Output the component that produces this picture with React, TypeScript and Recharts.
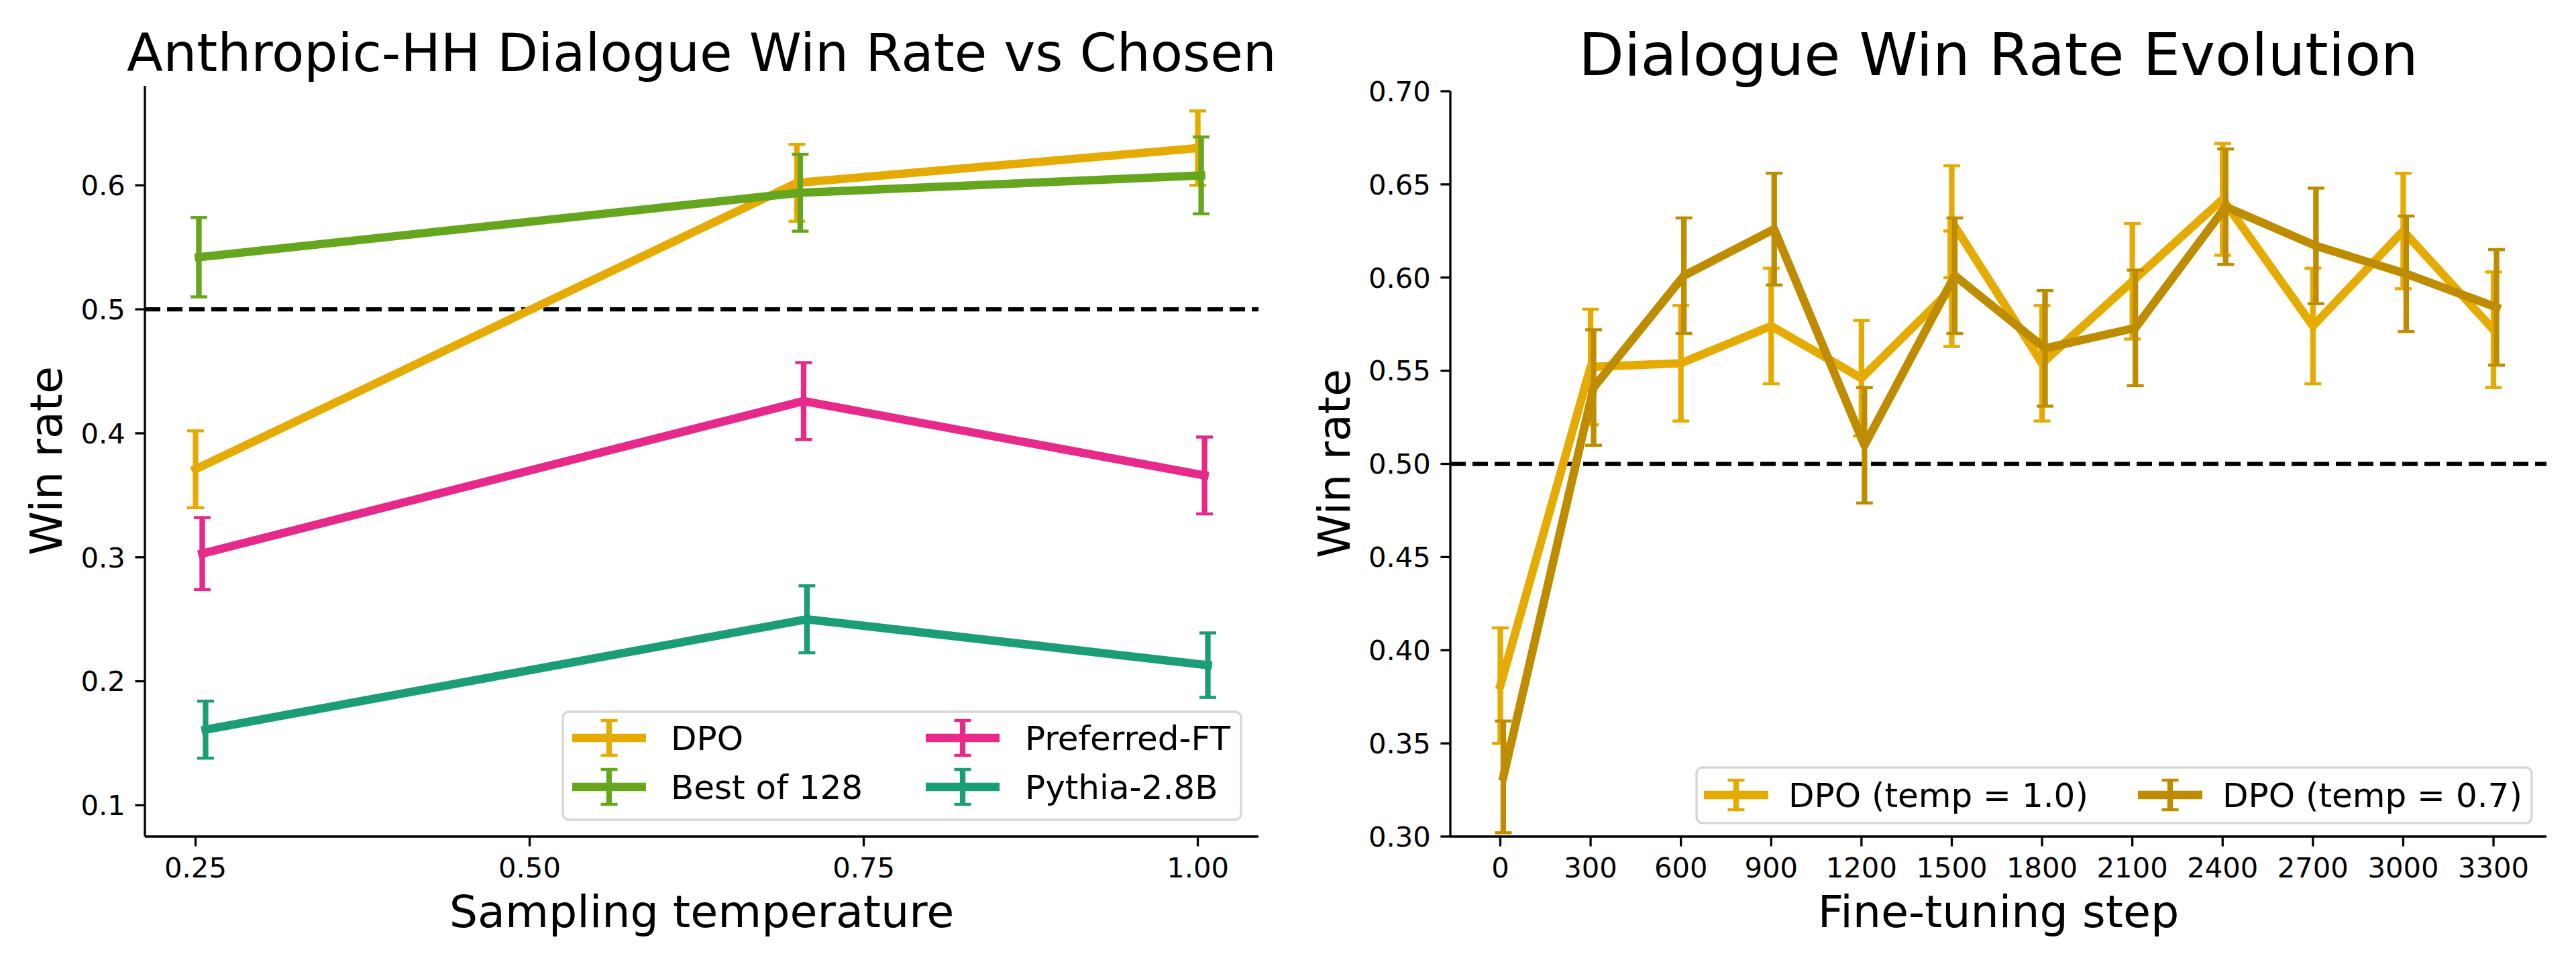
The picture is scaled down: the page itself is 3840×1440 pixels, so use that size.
import { LineChart, Line, XAxis, YAxis, ErrorBar, ReferenceLine } from 'recharts'

// ---- left panel: win rate vs chosen, by sampling temperature ----
const temperatures = [0.25, 0.7, 1.0]
const temperatureTicks = [0.25, 0.5, 0.75, 1.0]
const leftWinTicks = [0.1, 0.2, 0.3, 0.4, 0.5, 0.6]

const dpoWin = [0.371, 0.602, 0.63]
const dpoErr = [0.031, 0.031, 0.03]
const bestOf128Win = [0.542, 0.594, 0.608]
const bestOf128Err = [0.032, 0.031, 0.031]
const preferredFtWin = [0.303, 0.426, 0.366]
const preferredFtErr = [0.029, 0.031, 0.031]
const pythiaWin = [0.161, 0.25, 0.213]
const pythiaErr = [0.023, 0.027, 0.026]

// ---- right panel: win rate over fine-tuning steps ----
const stepTicks = [0, 300, 600, 900, 1200, 1500, 1800, 2100, 2400, 2700, 3000, 3300]
// temp 1.0 run has two checkpoints logged at step 1500
const temp10Steps = [0, 300, 600, 900, 1200, 1500, 1500, 1800, 2100, 2400, 2700, 3000, 3300]
const temp10Win = [0.381, 0.552, 0.554, 0.574, 0.546, 0.594, 0.63, 0.554, 0.598, 0.642, 0.574, 0.625, 0.572]
const temp10Err = [0.031, 0.031, 0.031, 0.031, 0.031, 0.031, 0.03, 0.031, 0.031, 0.03, 0.031, 0.031, 0.031]
const temp07Steps = [0, 300, 600, 900, 1200, 1500, 1800, 2100, 2400, 2700, 3000, 3300]
const temp07Win = [0.332, 0.541, 0.601, 0.626, 0.51, 0.601, 0.562, 0.573, 0.638, 0.617, 0.602, 0.584]
const temp07Err = [0.03, 0.031, 0.031, 0.03, 0.031, 0.031, 0.031, 0.031, 0.031, 0.031, 0.031, 0.031]
const rightWinTicks = [0.3, 0.35, 0.4, 0.45, 0.5, 0.55, 0.6, 0.65, 0.7]

type Row = { x: number; y: number; e: number }
type Series = { name: string; color: string; rows: Row[] }

// small horizontal nudge so overlapping error bars stay visible
function toRows(xs: number[], ys: number[], es: number[], nudge = 0): Row[] {
  return xs.map((x, i) => ({ x: x + nudge, y: ys[i], e: es[i] }))
}

const leftSeries: Series[] = [
  { name: 'DPO', color: '#e6ab02', rows: toRows(temperatures, dpoWin, dpoErr, 0) },
  { name: 'Best of 128', color: '#66a61e', rows: toRows(temperatures, bestOf128Win, bestOf128Err, 0.0025) },
  { name: 'Preferred-FT', color: '#e7298a', rows: toRows(temperatures, preferredFtWin, preferredFtErr, 0.005) },
  { name: 'Pythia-2.8B', color: '#1b9e77', rows: toRows(temperatures, pythiaWin, pythiaErr, 0.0075) },
]

const rightSeries: Series[] = [
  { name: 'DPO (temp = 1.0)', color: '#e6ab02', rows: toRows(temp10Steps, temp10Win, temp10Err, 0) },
  { name: 'DPO (temp = 0.7)', color: '#bf8c00', rows: toRows(temp07Steps, temp07Win, temp07Err, 10) },
]

const FONT = 'DejaVu Sans'
const TICK = { fill: '#000', fontSize: 41.7, fontFamily: FONT }
const AXIS_LINE = { stroke: '#000', strokeWidth: 3.3 }

interface PanelProps {
  offsetX: number
  margin: { top: number; right: number; bottom: number; left: number }
  series: Series[]
  xDomain: [number, number]
  xTicks: number[]
  xFormat: (v: number) => string
  yDomain: [number, number]
  yTicks: number[]
  yFormat: (v: number) => string
}

// axes get a 1px box (a 0px box is not drawn), margins are trimmed by that pixel
function Panel({ offsetX, margin, series, xDomain, xTicks, xFormat, yDomain, yTicks, yFormat }: PanelProps) {
  return (
    <div style={{ position: 'absolute', left: offsetX, top: 0 }}>
      <LineChart width={1920} height={1440} margin={margin}>
        <XAxis
          type="number"
          dataKey="x"
          domain={xDomain}
          ticks={xTicks}
          tickFormatter={xFormat}
          allowDataOverflow
          interval={0}
          height={1}
          tick={TICK}
          tickSize={14.6}
          tickMargin={16.8}
          axisLine={AXIS_LINE}
          tickLine={AXIS_LINE}
        />
        <YAxis
          type="number"
          domain={yDomain}
          ticks={yTicks}
          tickFormatter={yFormat}
          allowDataOverflow
          interval={0}
          width={1}
          tick={TICK}
          tickSize={14.6}
          tickMargin={14.6}
          axisLine={AXIS_LINE}
          tickLine={AXIS_LINE}
        />
        <ReferenceLine y={0.5} stroke="#000" strokeWidth={6.25} strokeDasharray="23 10" />
        {series.map((s) => (
          <Line
            key={s.name}
            name={s.name}
            data={s.rows}
            dataKey="y"
            type="linear"
            stroke={s.color}
            strokeWidth={12.5}
            strokeLinejoin="round"
            strokeLinecap="square"
            dot={false}
            activeDot={false}
            isAnimationActive={false}
          >
            <ErrorBar dataKey="e" direction="y" width={0} stroke={s.color} strokeWidth={8.3} isAnimationActive={false} />
            <ErrorBar dataKey="e" direction="y" width={12.5} stroke={s.color} strokeWidth={4.5} isAnimationActive={false} />
          </Line>
        ))}
      </LineChart>
    </div>
  )
}

interface LegendSlot {
  handleX: number
  handleW: number
  textX: number
  cy: number
}

function LegendBox({
  box,
  series,
  slots,
  barHalf,
}: {
  box: { x: number; y: number; w: number; h: number }
  series: Series[]
  slots: LegendSlot[]
  barHalf: number
}) {
  return (
    <g>
      <rect x={box.x} y={box.y} width={box.w} height={box.h} rx={9} fill="#fff" stroke="#d6d6d6" strokeWidth={3.3} />
      {series.map((s, i) => {
        const slot = slots[i]
        const mid = slot.handleX + slot.handleW / 2
        return (
          <g key={s.name}>
            <line x1={slot.handleX} x2={slot.handleX + slot.handleW} y1={slot.cy} y2={slot.cy} stroke={s.color} strokeWidth={12.5} />
            <line x1={mid} x2={mid} y1={slot.cy - barHalf} y2={slot.cy + barHalf} stroke={s.color} strokeWidth={8.3} />
            <line x1={mid - 12.5} x2={mid + 12.5} y1={slot.cy - barHalf} y2={slot.cy - barHalf} stroke={s.color} strokeWidth={4.5} />
            <line x1={mid - 12.5} x2={mid + 12.5} y1={slot.cy + barHalf} y2={slot.cy + barHalf} stroke={s.color} strokeWidth={4.5} />
            <text x={slot.textX} y={slot.cy + 18} fontSize={50} fontFamily={FONT} fill="#000">
              {s.name}
            </text>
          </g>
        )
      })}
    </g>
  )
}

export default function App() {
  return (
    <div style={{ position: 'relative', width: 3840, height: 1440, background: '#fff', overflow: 'hidden' }}>
      <style>{'body{margin:0}'}</style>
      <Panel
        offsetX={0}
        margin={{ top: 128, right: 44, bottom: 192, left: 215 }}
        series={leftSeries}
        xDomain={[0.2121, 1.0454]}
        xTicks={temperatureTicks}
        xFormat={(v) => v.toFixed(2)}
        yDomain={[0.0748, 0.6802]}
        yTicks={leftWinTicks}
        yFormat={(v) => v.toFixed(1)}
      />
      <Panel
        offsetX={1920}
        margin={{ top: 136, right: 44, bottom: 192, left: 241 }}
        series={rightSeries}
        xDomain={[-166, 3476]}
        xTicks={stepTicks}
        xFormat={(v) => String(v)}
        yDomain={[0.3, 0.7]}
        yTicks={rightWinTicks}
        yFormat={(v) => v.toFixed(2)}
      />
      <svg
        width={3840}
        height={1440}
        style={{ position: 'absolute', left: 0, top: 0, pointerEvents: 'none' }}
        fontFamily={FONT}
      >
        <text x={1046} y={106} fontSize={79} textAnchor="middle" fill="#000">
          Anthropic-HH Dialogue Win Rate vs Chosen
        </text>
        <text x={2979} y={112} fontSize={88} textAnchor="middle" fill="#000">
          Dialogue Win Rate Evolution
        </text>
        <text transform="translate(92,687) rotate(-90)" fontSize={66.7} textAnchor="middle" fill="#000">
          Win rate
        </text>
        <text transform="translate(2012,691) rotate(-90)" fontSize={66.7} textAnchor="middle" fill="#000">
          Win rate
        </text>
        <text x={1046} y={1382} fontSize={66.7} textAnchor="middle" fill="#000">
          Sampling temperature
        </text>
        <text x={2979} y={1382} fontSize={66.7} textAnchor="middle" fill="#000">
          Fine-tuning step
        </text>
        <LegendBox
          box={{ x: 839, y: 1061, w: 1011, h: 161 }}
          series={leftSeries}
          barHalf={26}
          slots={[
            { handleX: 853, handleW: 110, textX: 1000, cy: 1100 },
            { handleX: 853, handleW: 110, textX: 1000, cy: 1173 },
            { handleX: 1380, handleW: 110, textX: 1528, cy: 1100 },
            { handleX: 1380, handleW: 110, textX: 1528, cy: 1173 },
          ]}
        />
        <LegendBox
          box={{ x: 2529, y: 1144, w: 1245, h: 83 }}
          series={rightSeries}
          barHalf={22}
          slots={[
            { handleX: 2540, handleW: 96, textX: 2666, cy: 1185 },
            { handleX: 3187, handleW: 96, textX: 3313, cy: 1185 },
          ]}
        />
      </svg>
    </div>
  )
}
